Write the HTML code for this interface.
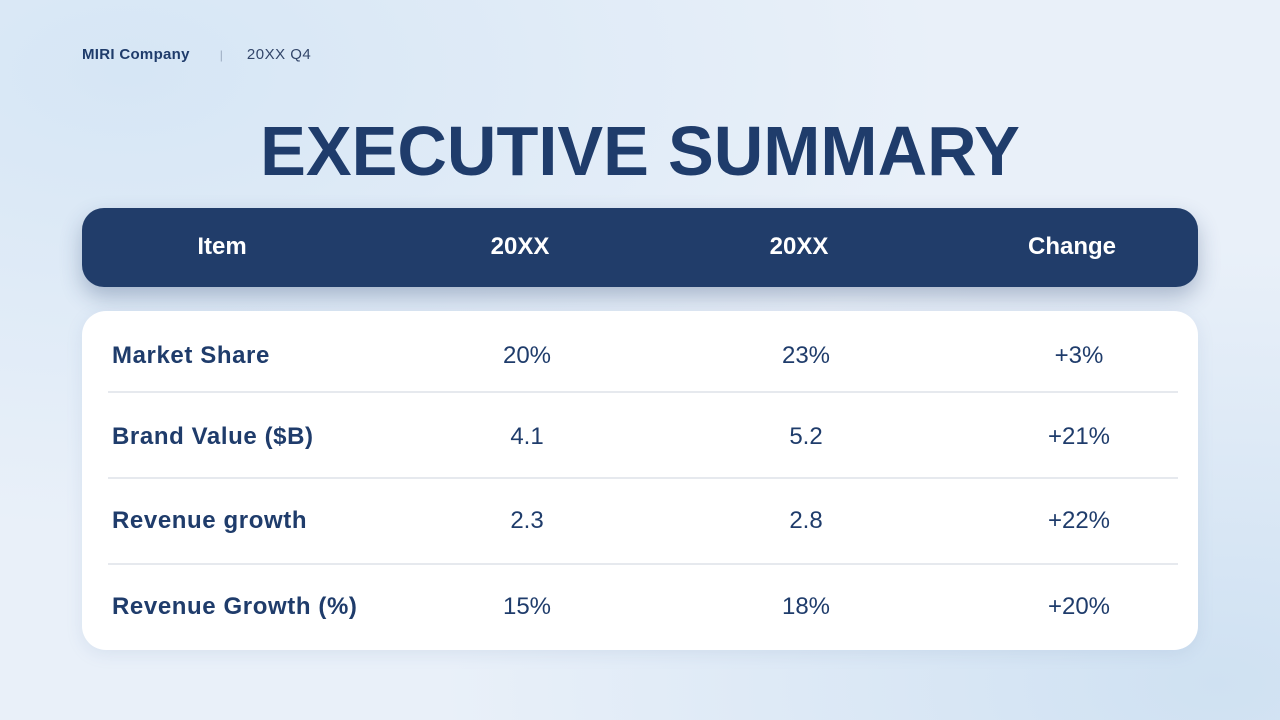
<!DOCTYPE html>
<html><head><meta charset="utf-8"><style>
*{margin:0;padding:0;box-sizing:border-box}
body{width:1280px;height:720px;overflow:hidden;position:relative;font-family:"Liberation Sans",sans-serif;
background:radial-gradient(ellipse at 10% 10%,#d6e6f5 0%,rgba(214,230,245,0) 50%),radial-gradient(ellipse at 95% 95%,#cfe1f2 0%,rgba(207,225,242,0) 45%),#e9f0f9;color:#1f3c6b}
.hdr{position:absolute;top:46px;left:82px;font-size:15px;display:flex;align-items:center}
.hdr b{font-weight:bold;letter-spacing:0.3px}
.sep{margin-left:30px;color:#9aaac0;font-size:12px}
.q{margin-left:24px;color:#33466a;letter-spacing:0.5px}
h1{position:absolute;top:111px;left:0;width:1280px;text-align:center;font-size:70px;font-weight:bold;color:#1f3c6b;transform:scaleX(0.98)}
.bar{position:absolute;left:82px;top:208px;width:1116px;height:79px;border-radius:22px;background:#213d6a;box-shadow:0 10px 22px rgba(33,61,106,0.3)}
.bar span,.row span{position:absolute;transform:translateX(-50%);white-space:nowrap}
.bar span{top:25px;color:#fff;font-weight:bold;font-size:24px}
.card{position:absolute;left:82px;top:311px;width:1116px;height:339px;border-radius:24px;background:#fff;box-shadow:0 4px 16px rgba(120,150,190,0.15)}
.row{position:absolute;left:0;width:1116px;height:30px}
.row .l{left:30px;transform:none;font-weight:bold;letter-spacing:0.6px}
.row span{font-size:24px;top:0}
.line{position:absolute;left:26px;width:1070px;height:2px;background:#e6e9ee}
</style></head><body>
<div class="hdr"><b>MIRI Company</b><span class="sep">|</span><span class="q">20XX Q4</span></div>
<h1>EXECUTIVE SUMMARY</h1>
<div class="bar"><span style="left:140px">Item</span><span style="left:438px">20XX</span><span style="left:717px">20XX</span><span style="left:990px">Change</span></div>
<div class="card">
<div class="row" style="top:31px"><span class="l">Market Share</span><span style="left:445px">20%</span><span style="left:724px">23%</span><span style="left:997px">+3%</span></div>
<div class="line" style="top:80px"></div>
<div class="row" style="top:112px"><span class="l">Brand Value ($B)</span><span style="left:445px">4.1</span><span style="left:724px">5.2</span><span style="left:997px">+21%</span></div>
<div class="line" style="top:166px"></div>
<div class="row" style="top:196px"><span class="l">Revenue growth</span><span style="left:445px">2.3</span><span style="left:724px">2.8</span><span style="left:997px">+22%</span></div>
<div class="line" style="top:252px"></div>
<div class="row" style="top:282px"><span class="l">Revenue Growth (%)</span><span style="left:445px">15%</span><span style="left:724px">18%</span><span style="left:997px">+20%</span></div>
</div>
</body></html>
